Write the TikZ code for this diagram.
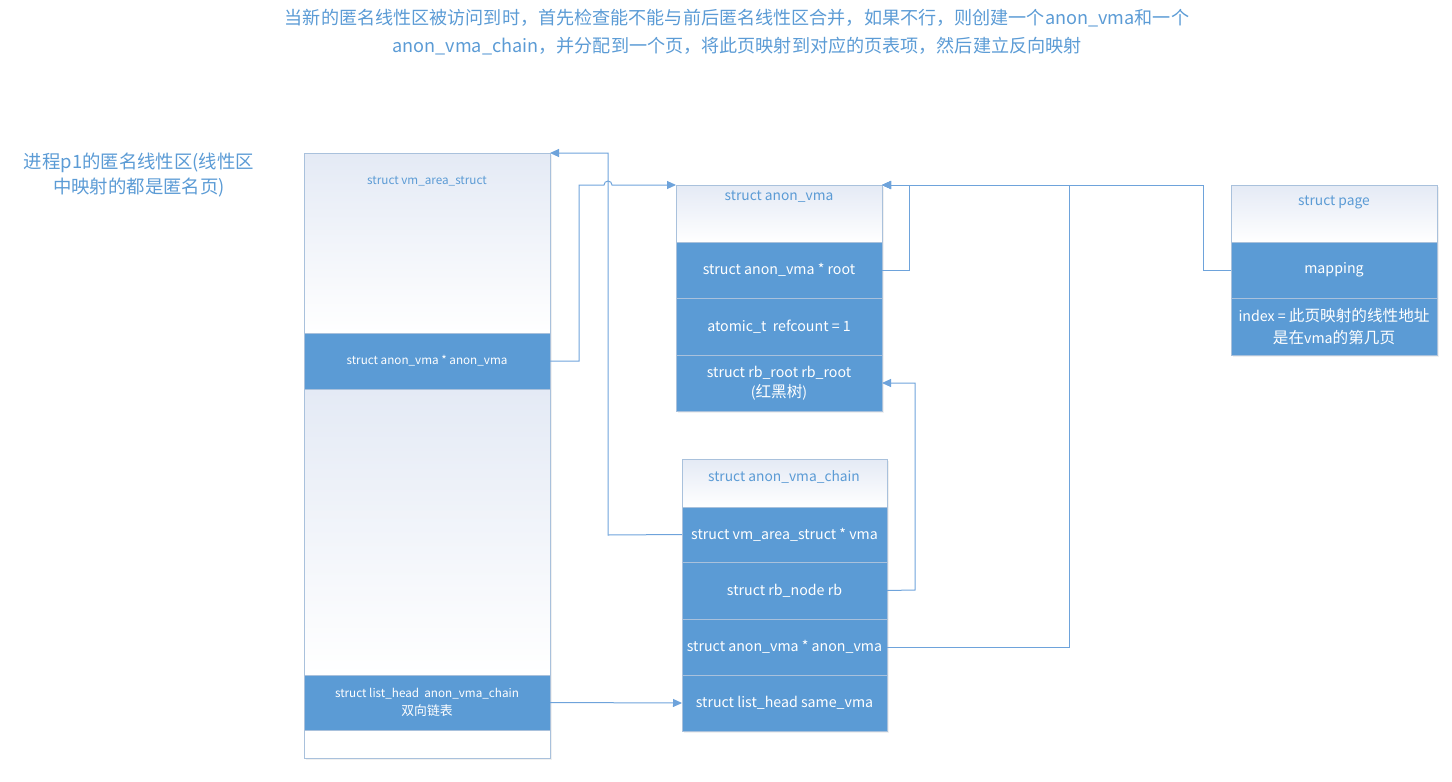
\documentclass[tikz,border=0pt]{standalone}
\usepackage{fontspec}
\setmainfont{Noto Sans CJK SC}
\newfontfamily\zhfont[Scale=1.1]{Noto Sans CJK SC}
\usetikzlibrary{arrows.meta,shadows}
\definecolor{fieldblue}{HTML}{5B9BD5}
\definecolor{edgegrey}{HTML}{A9C1DC}
\definecolor{hdrtop}{HTML}{E4EAF5}
\definecolor{inkblue}{HTML}{5B9BD5}
\definecolor{wire}{HTML}{6EA3DB}

\begin{document}
\begin{tikzpicture}[x=1pt,y=-1pt,
  boxshadow/.style={drop shadow={opacity=0.12, shadow xshift=1.5pt, shadow yshift=-1.5pt}},
  field/.style={draw=edgegrey, fill=fieldblue, text=white, inner sep=0pt, outer sep=0pt,
    anchor=north west, align=center, font=\fontsize{14.2}{20}\selectfont, boxshadow},
  smallfield/.style={field, font=\fontsize{11.7}{18}\selectfont},
  hdr/.style={draw=edgegrey, top color=hdrtop, bottom color=white, inner sep=0pt, outer sep=0pt,
    anchor=north west, boxshadow},
  hdrtext/.style={text=inkblue, font=\fontsize{13.8}{16}\selectfont, inner sep=0pt},
  link/.style={draw=wire, line width=1pt},
  ptr/.style={link, -{Triangle[length=9pt,width=8pt]}},
]
\useasboundingbox (0,0) rectangle (1452,782);

% captions
\node[text=inkblue, align=center, font=\fontsize{18.1}{28}\selectfont] (title) at (737,32)
  {当新的匿名线性区被访问到时，首先检查能不能与前后匿名线性区合并，如果不行，则创建一个anon\_vma和一个\\
   anon\_vma\_chain，并分配到一个页，将此页映射到对应的页表项，然后建立反向映射};
\node[text=inkblue, align=center, font=\fontsize{18.4}{25}\selectfont] (proc) at (139,175)
  {进程p1的匿名线性区(线性区\\中映射的都是匿名页)};

% struct vm_area_struct
\node[hdr, minimum width=246pt, minimum height=180pt] (vmh) at (304,153) {};
\node[smallfield, minimum width=246pt, minimum height=56pt] (vmav) at (304,333) {struct anon\_vma * anon\_vma};
\node[hdr, minimum width=246pt, minimum height=286pt] (vmmid) at (304,389) {};
\node[smallfield, minimum width=246pt, minimum height=55pt] (vmlist) at (304,675)
  {struct list\_head\ \ anon\_vma\_chain\\{\zhfont 双向链表}};
\node[hdr, top color=white, bottom color=white, minimum width=246pt, minimum height=28pt] (vmbot) at (304,730) {};
\node[hdrtext, font=\fontsize{11.7}{16}\selectfont] (vmt) at (427,181) {struct vm\_area\_struct};

% struct anon_vma
\node[hdr, minimum width=206pt, minimum height=57pt] (avh) at (676,185) {};
\node[field, minimum width=206pt, minimum height=56pt] (avroot) at (676,242) {struct anon\_vma * root};
\node[field, minimum width=206pt, minimum height=57pt] (avref) at (676,298) {atomic\_t\ \ refcount = 1};
\node[field, minimum width=206pt, minimum height=56pt] (avrb) at (676,355) {struct rb\_root rb\_root\\({\zhfont 红黑树})};
\node[hdrtext] (avt) at (779,197) {struct anon\_vma};

% struct page
\node[hdr, minimum width=206pt, minimum height=57pt] (pgh) at (1231,185) {};
\node[field, minimum width=206pt, minimum height=56pt] (pgmap) at (1231,242) {mapping};
\node[field, font=\fontsize{14.2}{22}\selectfont, minimum width=206pt, minimum height=57pt] (pgidx) at (1231,298)
  {index = {\zhfont 此页映射的线性地址}\\{\zhfont 是在}vma{\zhfont 的第几页}};
\node[hdrtext] (pgt) at (1334,202) {struct page};

% struct anon_vma_chain
\node[hdr, minimum width=205pt, minimum height=48pt] (chh) at (682,459) {};
\node[field, minimum width=205pt, minimum height=55pt] (chvma) at (682,507) {struct vm\_area\_struct * vma};
\node[field, minimum width=205pt, minimum height=57pt] (chrb) at (682,562) {struct rb\_node rb};
\node[field, minimum width=205pt, minimum height=56pt] (chav) at (682,619) {struct anon\_vma * anon\_vma};
\node[field, minimum width=205pt, minimum height=56pt] (chsame) at (682,675) {struct list\_head same\_vma};
\node[hdrtext] (cht) at (784,477) {struct anon\_vma\_chain};

% pointers
\draw[ptr] (chvma.west) -- (608,535) -- (608,153) -- (vmh.north east);
\draw[ptr] (vmav.east) -- (579,361) -- (579,185) -- (604,185) arc[start angle=180, end angle=0, radius=4pt]
  -- (avh.north west);
\draw[ptr] (avroot.east) -- (909,270) -- (909,185) -- (avh.north east);
\draw[ptr] (pgmap.west) -- (1203,270) -- (1203,185) -- (avh.north east);
\draw[ptr] (chav.east) -- (1069,647) -- (1069,185) -- (avh.north east);
\draw[ptr] (chrb.east) -- (915,590) -- (915,383) -- (avrb.east);
\draw[ptr] (vmlist.east) -- (chsame.west);
\end{tikzpicture}
\end{document}
